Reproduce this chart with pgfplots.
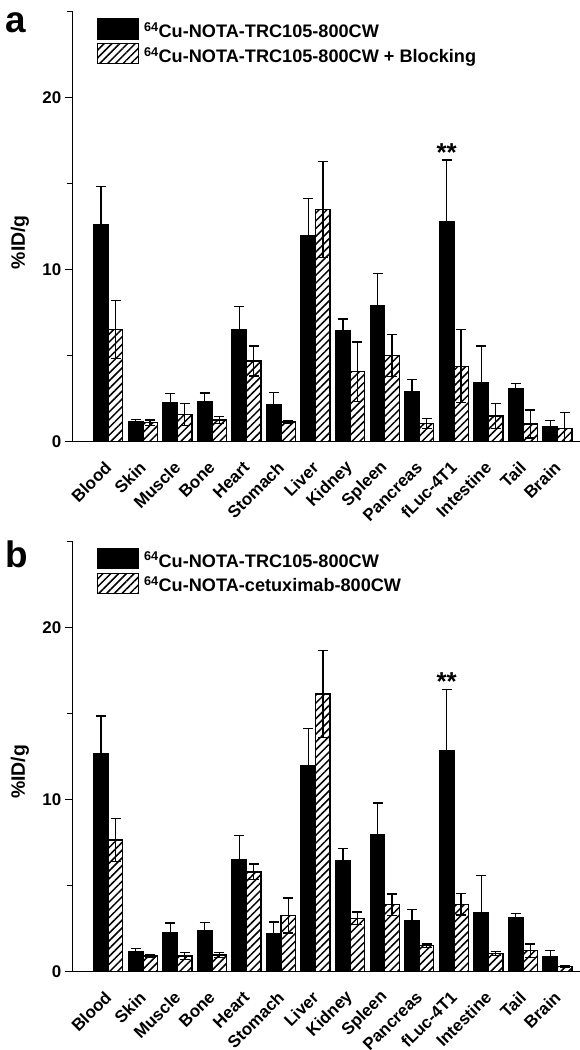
\documentclass[border=0pt]{standalone}
\usepackage{fontspec}
\setmainfont{Liberation Sans}
\usepackage{pgfplots}
\usepackage{pgfplotstable}
\pgfplotsset{compat=1.18}
\usetikzlibrary{patterns.meta}

% black series (same in both panels): x value error
\pgfplotstableread{
x y e
0 12.64 2.21
1 1.15 0.16
2 2.27 0.53
3 2.35 0.49
4 6.52 1.36
5 2.18 0.68
6 11.97 2.15
7 6.45 0.68
8 7.92 1.86
9 2.92 0.68
10 12.80 3.58
11 3.41 2.15
12 3.11 0.27
13 0.86 0.36
}\tblBlack

\pgfplotstableread{
x y e
0 6.52 1.67
1 1.10 0.16
2 1.59 0.64
3 1.26 0.19
4 4.69 0.87
5 1.14 0.08
6 13.51 2.79
7 4.07 1.72
8 5.01 1.22
9 1.06 0.30
10 4.39 2.12
11 1.49 0.74
12 1.03 0.81
13 0.77 0.93
}\tblBlock

\pgfplotstableread{
x y e
0 7.64 1.24
1 0.89 0.08
2 0.89 0.20
3 0.95 0.14
4 5.78 0.46
5 3.24 1.02
6 16.12 2.54
7 3.08 0.37
8 3.88 0.62
9 1.49 0.10
10 3.90 0.63
11 1.03 0.13
12 1.20 0.39
13 0.27 0.05
}\tblCetux

\pgfplotsset{
  panel/.style={
    scale only axis,
    width=507.3bp, height=430bp,
    xmin=-1.03, xmax=13.65,
    ymin=0, ymax=25,
    ybar=0pt, bar width=14.5bp,
    axis x line*=bottom, axis y line*=left,
    axis line style={line width=1.3bp},
    clip mode=individual,
    xtick={0,...,13},
    xticklabels={Blood,Skin,Muscle,Bone,Heart,Stomach,Liver,Kidney,Spleen,Pancreas,fLuc-4T1,Intestine,Tail,Brain},
    xtick style={draw=none},
    x tick label style={font=\bfseries\fontsize{17}{17}\selectfont, inner sep=0pt, xshift=0bp, yshift=-15bp, rotate=45, anchor=east},
    ytick={0,10,20}, minor ytick={5,15,25},
    tick align=outside,
    major tick length=8bp, minor tick length=6bp,
    ytick style={line width=1.3bp, black},
    y tick label style={font=\bfseries\fontsize{17}{17}\selectfont, /pgf/number format/assume math mode=true},
    ylabel={\%ID/g},
    ylabel style={at={(axis description cs:-0.104,0.464)}, anchor=center, font=\bfseries\fontsize{19.5}{19.5}\selectfont},
    legend image code/.code={\draw[#1, line width=1.3bp] (0bp,-1.5bp) rectangle (41bp,18.5bp); \path (46bp,0bp);},
    legend style={at={(axis description cs:0.047,0.985)}, anchor=north west, draw=none, fill=none,
      font=\bfseries\fontsize{18.2}{18.2}\selectfont, inner sep=0pt, row sep=3.5bp,
      nodes={inner sep=0pt}, cells={anchor=base west}},
  },
  ebar/.style={
    error bars/y dir=both, error bars/y explicit,
    error bars/error bar style={line width=1.3bp, black},
    error bars/error mark options={rotate=90, mark size=5bp, line width=1.3bp, black},
  },
  blackbar/.style={draw=black, fill=black, line width=1.3bp, ebar},
  hatchbar/.style={draw=black, line width=1.3bp, pattern={Lines[angle=45,distance=5.5bp,line width=1.5bp]}, pattern color=black, ebar},
}

\begin{document}
\begin{tikzpicture}
\useasboundingbox (-72.7bp,-608.3bp) rectangle (507.3bp,441.7bp);
\begin{axis}[panel, at={(0bp,0bp)}, anchor=south west]
\addplot[blackbar] table[x=x, y=y, y error=e] {\tblBlack};
\addplot[hatchbar] table[x=x, y=y, y error=e] {\tblBlock};
\legend{\textsuperscript{64}Cu-NOTA-TRC105-800CW, \textsuperscript{64}Cu-NOTA-TRC105-800CW + Blocking}
\node[anchor=south, font=\bfseries\fontsize{26}{26}\selectfont, inner sep=0pt, xshift=-7.25bp] at (axis cs:10,16.3) {**};
\node[anchor=base west, font=\bfseries\fontsize{37}{37}\selectfont, inner sep=0pt] at (axis description cs:-0.1335,0.9505) {a};
\end{axis}
\begin{axis}[panel, at={(0bp,-529.6bp)}, anchor=south west]
\addplot[blackbar] table[x=x, y=y, y error=e] {\tblBlack};
\addplot[hatchbar] table[x=x, y=y, y error=e] {\tblCetux};
\legend{\textsuperscript{64}Cu-NOTA-TRC105-800CW, \textsuperscript{64}Cu-NOTA-cetuximab-800CW}
\node[anchor=south, font=\bfseries\fontsize{26}{26}\selectfont, inner sep=0pt, xshift=-7.25bp] at (axis cs:10,16.3) {**};
\node[anchor=base west, font=\bfseries\fontsize{37}{37}\selectfont, inner sep=0pt] at (axis description cs:-0.1335,0.94) {b};
\end{axis}
\end{tikzpicture}
\end{document}
